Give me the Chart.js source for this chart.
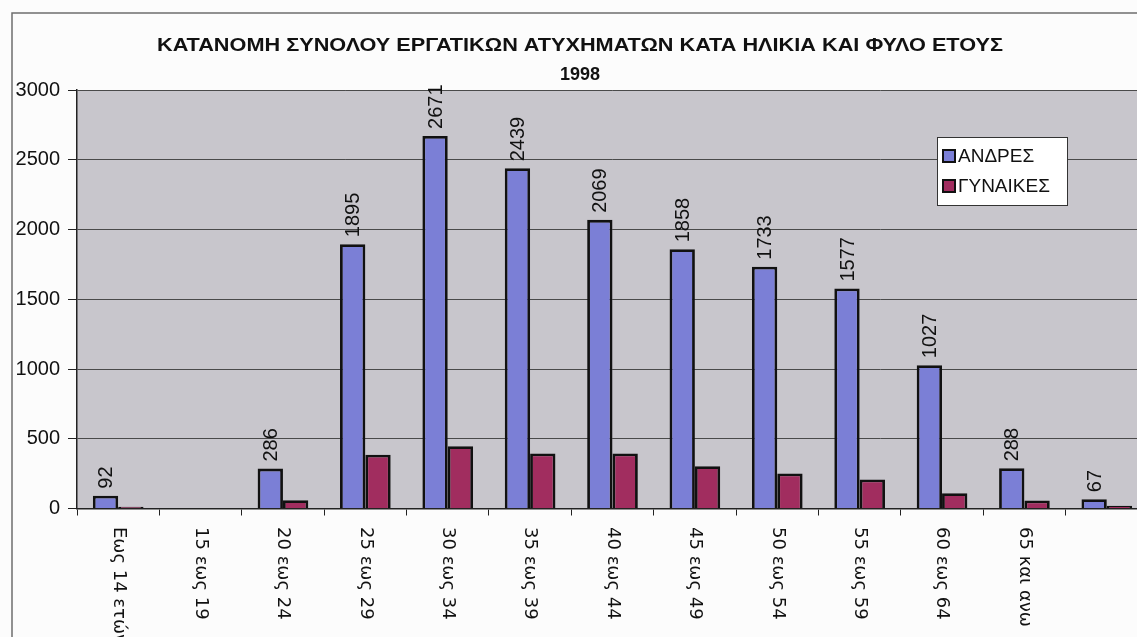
<!DOCTYPE html>
<html>
<head>
  <meta charset="UTF-8">
  <title>Εργατικά ατυχήματα 1998</title>
  <script src="https://cdn.jsdelivr.net/npm/chart.js"></script>
  <style>
    html, body { margin: 0; padding: 0; background: #fcfcfc; overflow: hidden; }
    #wrap { position: absolute; left: 0; top: 0; width: 1200px; height: 700px; }
  </style>
</head>
<body>
  <div id="wrap"><canvas id="chart" width="1200" height="700"></canvas></div>

  <script>
    const titleLines = ["ΚΑΤΑΝΟΜΗ ΣΥΝΟΛΟΥ ΕΡΓΑΤΙΚΩΝ ΑΤΥΧΗΜΑΤΩΝ ΚΑΤΑ ΗΛΙΚΙΑ ΚΑΙ ΦΥΛΟ ΕΤΟΥΣ", "1998"];
    const ageGroups = ["Εως 14 ετών", "15 εως 19", "20 εως 24", "25 εως 29", "30 εως 34", "35 εως 39",
                       "40 εως 44", "45 εως 49", "50 εως 54", "55 εως 59", "60 εως 64", "65 και ανω", ""];
    const men   = [92, null, 286, 1895, 2671, 2439, 2069, 1858, 1733, 1577, 1027, 288, 67];
    const women = [12, null, 60, 385, 447, 394, 394, 303, 251, 208, 110, 57, 19];
    const yTicks = [0, 500, 1000, 1500, 2000, 2500, 3000];

    const BLUE = "#7b7fd6";
    const RED = "#a12d5f";

    // frame, plot background, title, legend, rotated labels
    const extras = {
      id: "extras",
      beforeDraw(chart) {
        const { ctx, chartArea: a } = chart;
        ctx.save();
        ctx.fillStyle = "#c8c6cc";
        ctx.fillRect(a.left, a.top, a.right - a.left, a.bottom - a.top);
        ctx.strokeStyle = "#6e6e6e";
        ctx.lineWidth = 1.5;
        ctx.beginPath();
        ctx.moveTo(12, 700); ctx.lineTo(12, 13); ctx.lineTo(1200, 13);
        ctx.stroke();
        ctx.restore();
      },
      afterDraw(chart) {
        const { ctx } = chart;
        const x = chart.scales.x;
        const y = chart.scales.y;
        ctx.save();

        // title (the scan is a bit wider than the font, so stretch the first line)
        ctx.fillStyle = "#111";
        ctx.font = "bold 19px Arial, 'Liberation Sans'";
        ctx.textAlign = "center";
        ctx.textBaseline = "middle";
        const w = ctx.measureText(titleLines[0]).width;
        ctx.save();
        ctx.translate(580, 46);
        ctx.scale(846 / w, 1);
        ctx.fillText(titleLines[0], 0, 0);
        ctx.restore();
        ctx.font = "bold 18px Arial, 'Liberation Sans'";
        ctx.fillText(titleLines[1], 580, 75);

        // category labels, read top to bottom
        ctx.font = "18px 'DejaVu Sans'";
        ctx.textAlign = "left";
        ageGroups.forEach((lab, i) => {
          ctx.save();
          ctx.translate(x.getPixelForValue(i), 527);
          ctx.rotate(Math.PI / 2);
          ctx.fillText(lab, 0, 0);
          ctx.restore();
        });

        // value labels over the men's bars
        ctx.font = "20px Arial, 'Liberation Sans'";
        const meta = chart.getDatasetMeta(0);
        men.forEach((v, i) => {
          if (v == null) return;
          const bar = meta.data[i];
          ctx.save();
          ctx.translate(bar.x, y.getPixelForValue(v) - 7);
          ctx.rotate(-Math.PI / 2);
          ctx.textAlign = "left";
          ctx.fillText(String(v), 0, 1);
          ctx.restore();
        });

        // legend
        const lx = 937, ly = 137, lw = 130, lh = 68;
        ctx.fillStyle = "#ffffff";
        ctx.fillRect(lx, ly, lw, lh);
        ctx.strokeStyle = "#333";
        ctx.lineWidth = 1;
        ctx.strokeRect(lx + 0.5, ly + 0.5, lw, lh);
        ctx.font = "19px Arial, 'Liberation Sans'";
        chart.data.datasets.forEach((ds, i) => {
          const cy = 156 + i * 30;
          ctx.fillStyle = ds.backgroundColor;
          ctx.fillRect(943, cy - 6, 12, 12);
          ctx.strokeStyle = "#111";
          ctx.lineWidth = 2;
          ctx.strokeRect(943, cy - 6, 12, 12);
          ctx.fillStyle = "#111";
          ctx.textAlign = "left";
          ctx.textBaseline = "middle";
          ctx.fillText(ds.label, 958, cy + 1);
        });
        ctx.restore();
      }
    };

    new Chart(document.getElementById("chart"), {
      type: "bar",
      data: {
        labels: ageGroups,
        datasets: [
          { label: "ΑΝΔΡΕΣ", data: men, backgroundColor: BLUE, borderColor: "#111", borderWidth: 2.8 },
          { label: "ΓΥΝΑΙΚΕΣ", data: women, backgroundColor: RED, borderColor: "#111", borderWidth: 2.8 }
        ]
      },
      options: {
        responsive: false,
        animation: false,
        devicePixelRatio: 1,
        layout: { padding: { top: 90, left: 0, right: 52, bottom: 0 } },
        datasets: { bar: { categoryPercentage: 0.615, barPercentage: 1 } },
        plugins: { legend: { display: false }, title: { display: false }, tooltip: { enabled: false } },
        scales: {
          x: {
            offset: true,
            grid: { offset: true, drawOnChartArea: false, drawTicks: true, tickLength: 7, color: "#222", lineWidth: 1 },
            border: { display: true, color: "#222", width: 1.5 },
            ticks: { display: false },
            afterFit: s => { s.height = 191.5; }
          },
          y: {
            min: 0,
            max: 3000,
            afterBuildTicks: s => { s.ticks = yTicks.map(v => ({ value: v })); },
            grid: { color: "#4a4a4a", lineWidth: 1, tickLength: 9, tickColor: "#222" },
            border: { display: true, color: "#222", width: 1.5 },
            ticks: {
              color: "#111",
              padding: 8,
              font: { family: "Arial, 'Liberation Sans'", size: 20 },
              callback: v => String(v)
            },
            afterFit: s => { s.width = 77; }
          }
        }
      },
      plugins: [extras]
    });
  </script>
</body>
</html>
